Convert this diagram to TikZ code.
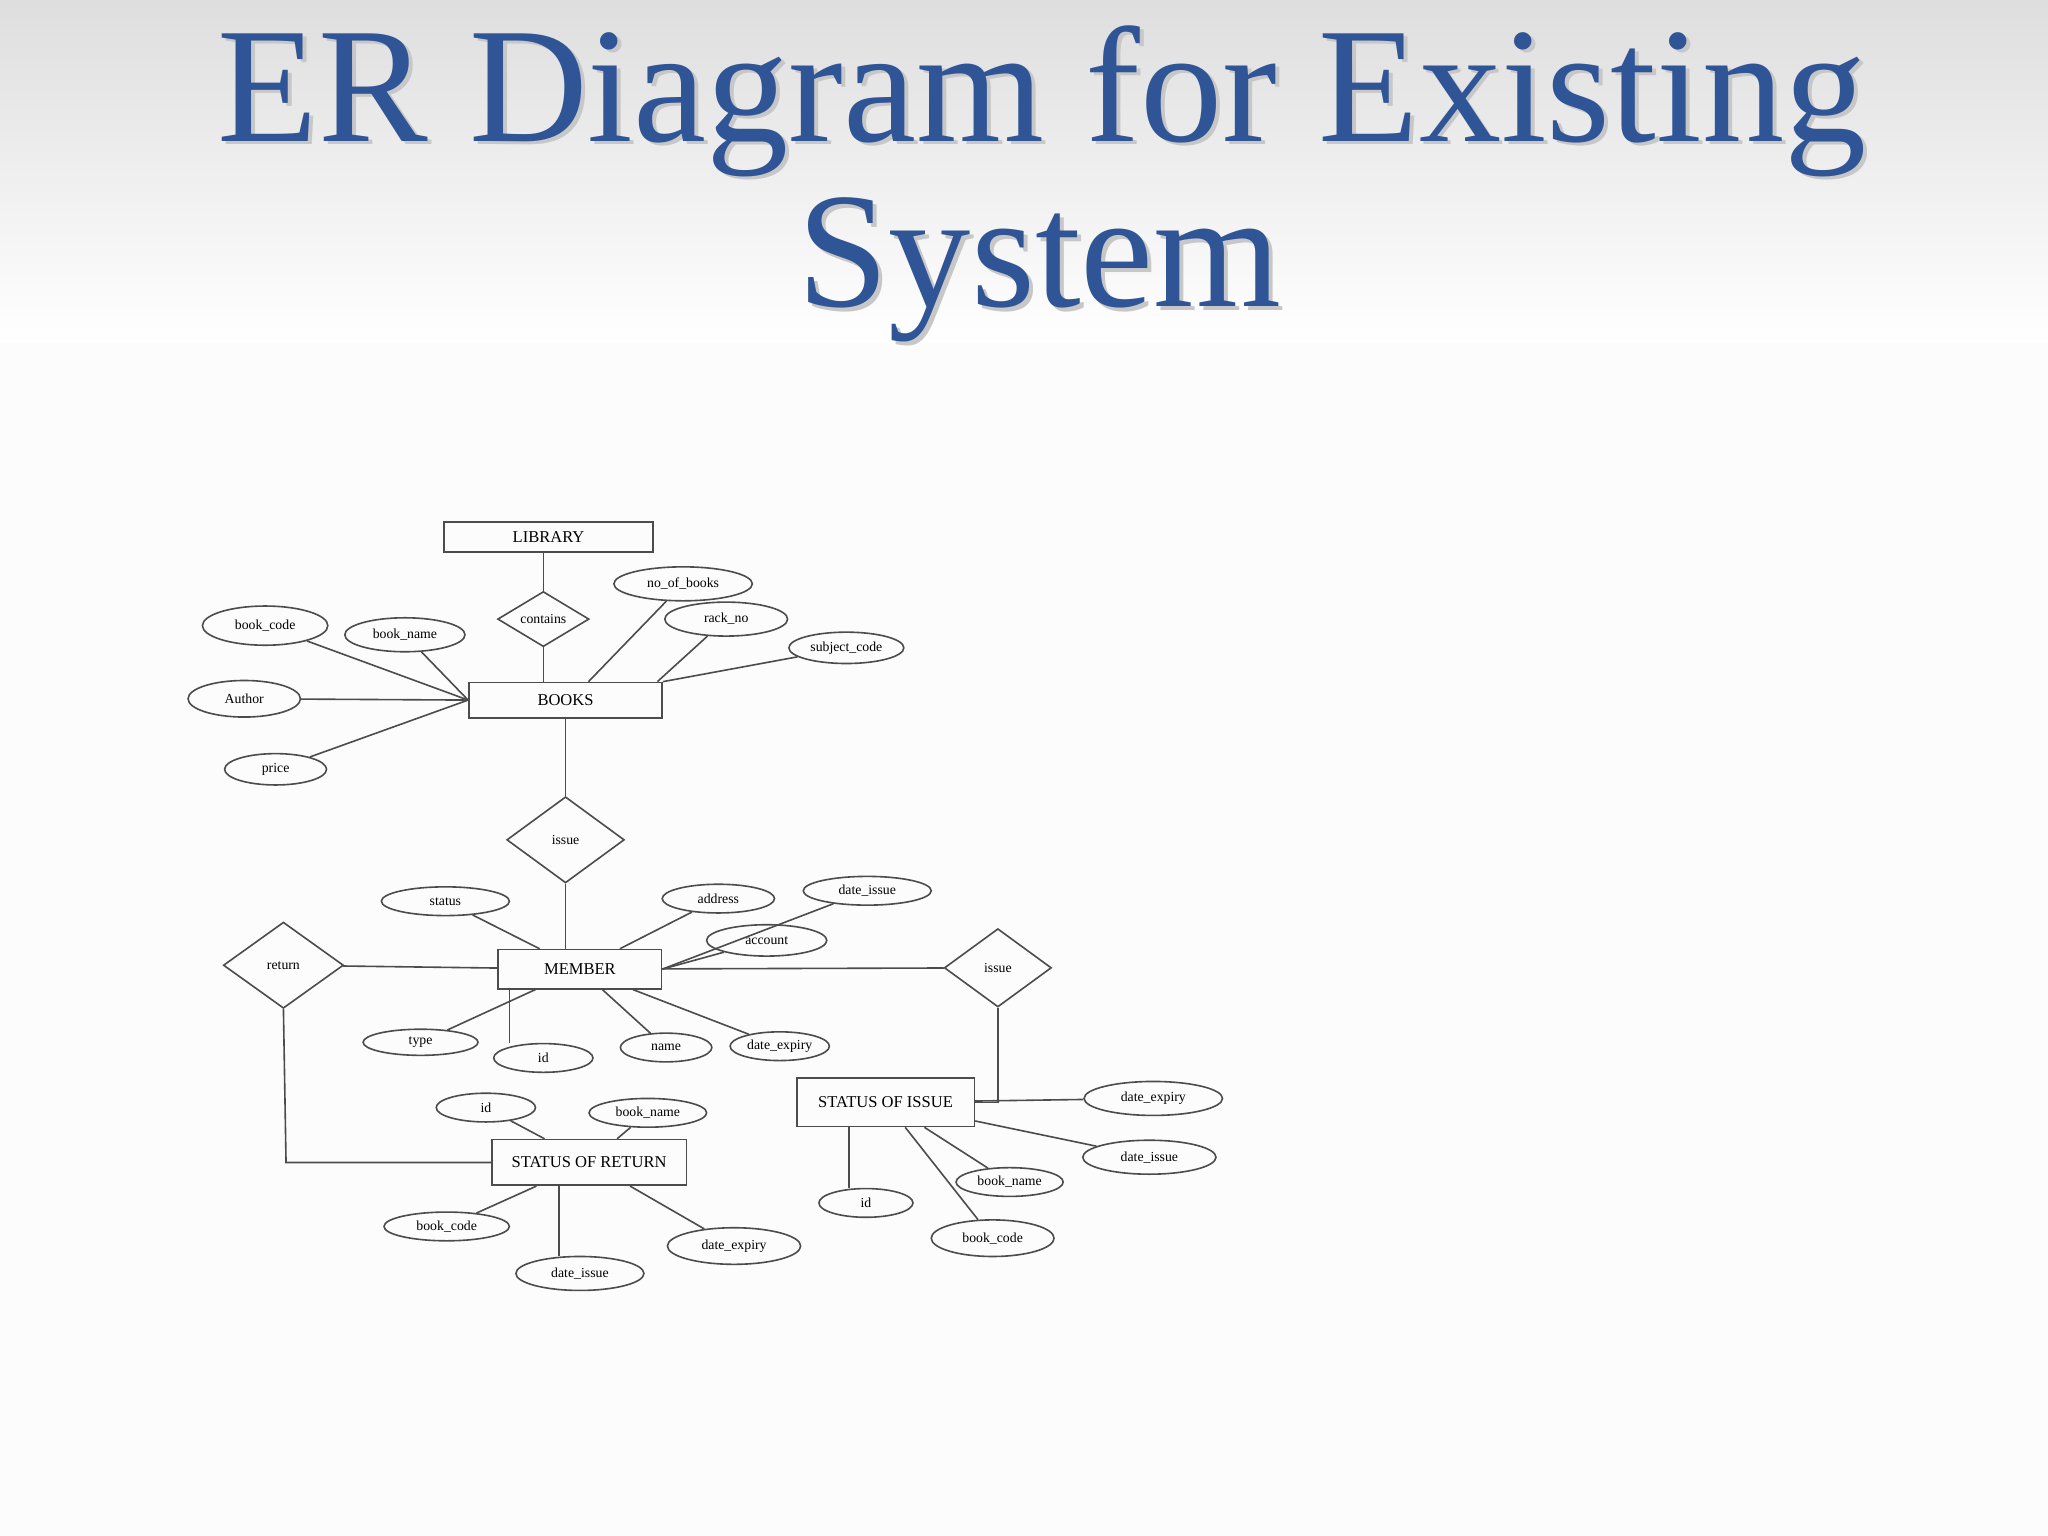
\documentclass[tikz,border=0pt]{standalone}
\usepackage{fontspec}
\setmainfont{Liberation Serif}
\usetikzlibrary{shapes.geometric}
\definecolor{titleblue}{HTML}{2F5597}
\tikzset{
 ent/.style={draw=black!70,line width=0.35pt,rectangle,inner sep=0pt,font=\fontsize{3.6}{4}\selectfont},
 att/.style={draw=black!70,line width=0.35pt,ellipse,inner sep=0pt,font=\fontsize{3}{3.5}\selectfont},
 rel/.style={draw=black!70,line width=0.35pt,diamond,inner sep=0pt,font=\fontsize{3}{3.5}\selectfont},
 ln/.style={draw=black!70,line width=0.35pt},
 ttl/.style={font=\fontsize{35.8}{36}\selectfont,anchor=base}
}
\newcommand\att[6]{\node[att,minimum width=#4*0.01cm,minimum height=#5*0.01cm] (#1) at (#2,#3) {#6};}
\newcommand\ent[6]{\node[ent,minimum width=#4*0.01cm,minimum height=#5*0.01cm] (#1) at (#2,#3) {#6};}
\newcommand\rel[6]{\node[rel,minimum width=#4*0.01cm,minimum height=#5*0.01cm] (#1) at (#2,#3) {#6};}
\begin{document}
\begin{tikzpicture}[x=0.01cm,y=-0.01cm]
\useasboundingbox (0,0) rectangle (1568,1176);
\fill[white!98!gray] (0,0) rectangle (1568,1176);
\shade[top color=black!13,bottom color=white] (0,0) rectangle (1568,262);
\node[ttl,text=black!22] at (801,111) {ER Diagram for Existing};
\node[ttl,text=black!22] at (799,238) {System};
\node[ttl,text=titleblue] (t1) at (798,108) {ER Diagram for Existing};
\node[ttl,text=titleblue] (t2) at (796,235) {System};
% entities
\ent{lib}{420}{411}{160}{23}{LIBRARY}
\ent{books}{433}{536}{148}{27}{BOOKS}
\ent{mem}{444}{742}{125}{30}{MEMBER}
\ent{soi}{678}{844}{136}{37}{STATUS OF ISSUE}
\ent{sor}{451}{890}{149}{35}{STATUS OF RETURN}
% relations
\rel{cont}{416}{474}{70}{40}{contains}
\rel{iss}{433}{643}{90}{66}{issue}
\rel{ret}{217}{739}{92}{66}{return}
\rel{iss2}{764}{741}{82}{60}{issue}
% attributes
\att{bc}{203}{479}{96}{30}{book\_code}
\att{bn}{310}{486}{92}{26}{book\_name}
\att{au}{187}{535}{86}{28}{Author}
\att{pr}{211}{589}{78}{24}{price}
\att{nb}{523}{447}{106}{26}{no\_of\_books}
\att{rn}{556}{474}{94}{26}{rack\_no}
\att{sc}{648}{496}{88}{24}{subject\_code}
\att{st}{341}{690}{98}{22}{status}
\att{ad}{550}{688}{86}{22}{address}
\att{di}{664}{682}{98}{22}{date\_issue}
\att{ac}{587}{720}{92}{24}{account}
\att{ty}{322}{798}{88}{20}{type}
\att{id}{416}{810}{76}{22}{id}
\att{nm}{510}{802}{70}{22}{name}
\att{de}{597}{801}{76}{22}{date\_expiry}
\att{ide}{883}{841}{106}{26}{date\_expiry}
\att{idi}{880}{886}{102}{26}{date\_issue}
\att{ibn}{773}{905}{82}{22}{book\_name}
\att{ibc}{760}{948}{94}{28}{book\_code}
\att{iid}{663}{921}{72}{22}{id}
\att{rid}{372}{848}{76}{22}{id}
\att{rbn}{496}{852}{90}{22}{book\_name}
\att{rbc}{342}{939}{96}{22}{book\_code}
\att{rdi}{444}{975}{98}{26}{date\_issue}
\att{rde}{562}{954}{102}{28}{date\_expiry}
% connectors
\draw[ln] (lib.south -| cont) -- (cont);
\draw[ln] (cont) -- (cont |- books.north);
\foreach \a in {bc,bn,au,pr} \draw[ln] (\a) -- (books.west);
\draw[ln] (nb) -- ([xshift=5]books.north);
\draw[ln] (rn) -- ([xshift=20]books.north);
\draw[ln] (sc) -- (books.north east);
\draw[ln] (books) -- (iss);
\draw[ln] (iss) -- (iss |- mem.north);
\draw[ln] (st) -- (mem);
\draw[ln] (ad) -- (mem);
\draw[ln] (di) -- (mem.east);
\draw[ln] (ac) -- (mem.east);
\draw[ln] (ret) -- (mem);
\draw[ln] (mem) -- (iss2);
\draw[ln] (ty) -- (mem);
\draw[ln] (id.north -| 390,757) -- (390,757);
\draw[ln] (nm) -- (mem);
\draw[ln] (de) -- (mem);
\draw[ln] (iss2.south) |- (soi.east);
\draw[ln] (ret.south) -- (219,890) -- (sor.west);
\draw[ln] (ide) -- (soi);
\draw[ln] (idi) -- (soi);
\draw[ln] (ibn) -- (soi);
\draw[ln] (ibc) -- (soi);
\draw[ln] (iid.north -| 650,863) -- (650,863);
\draw[ln] (rid) -- (sor);
\draw[ln] (rbn) -- (sor);
\draw[ln] (rbc) -- (sor);
\draw[ln] (rdi.north -| 428,908) -- (428,908);
\draw[ln] (rde) -- (sor);
\end{tikzpicture}
\end{document}
